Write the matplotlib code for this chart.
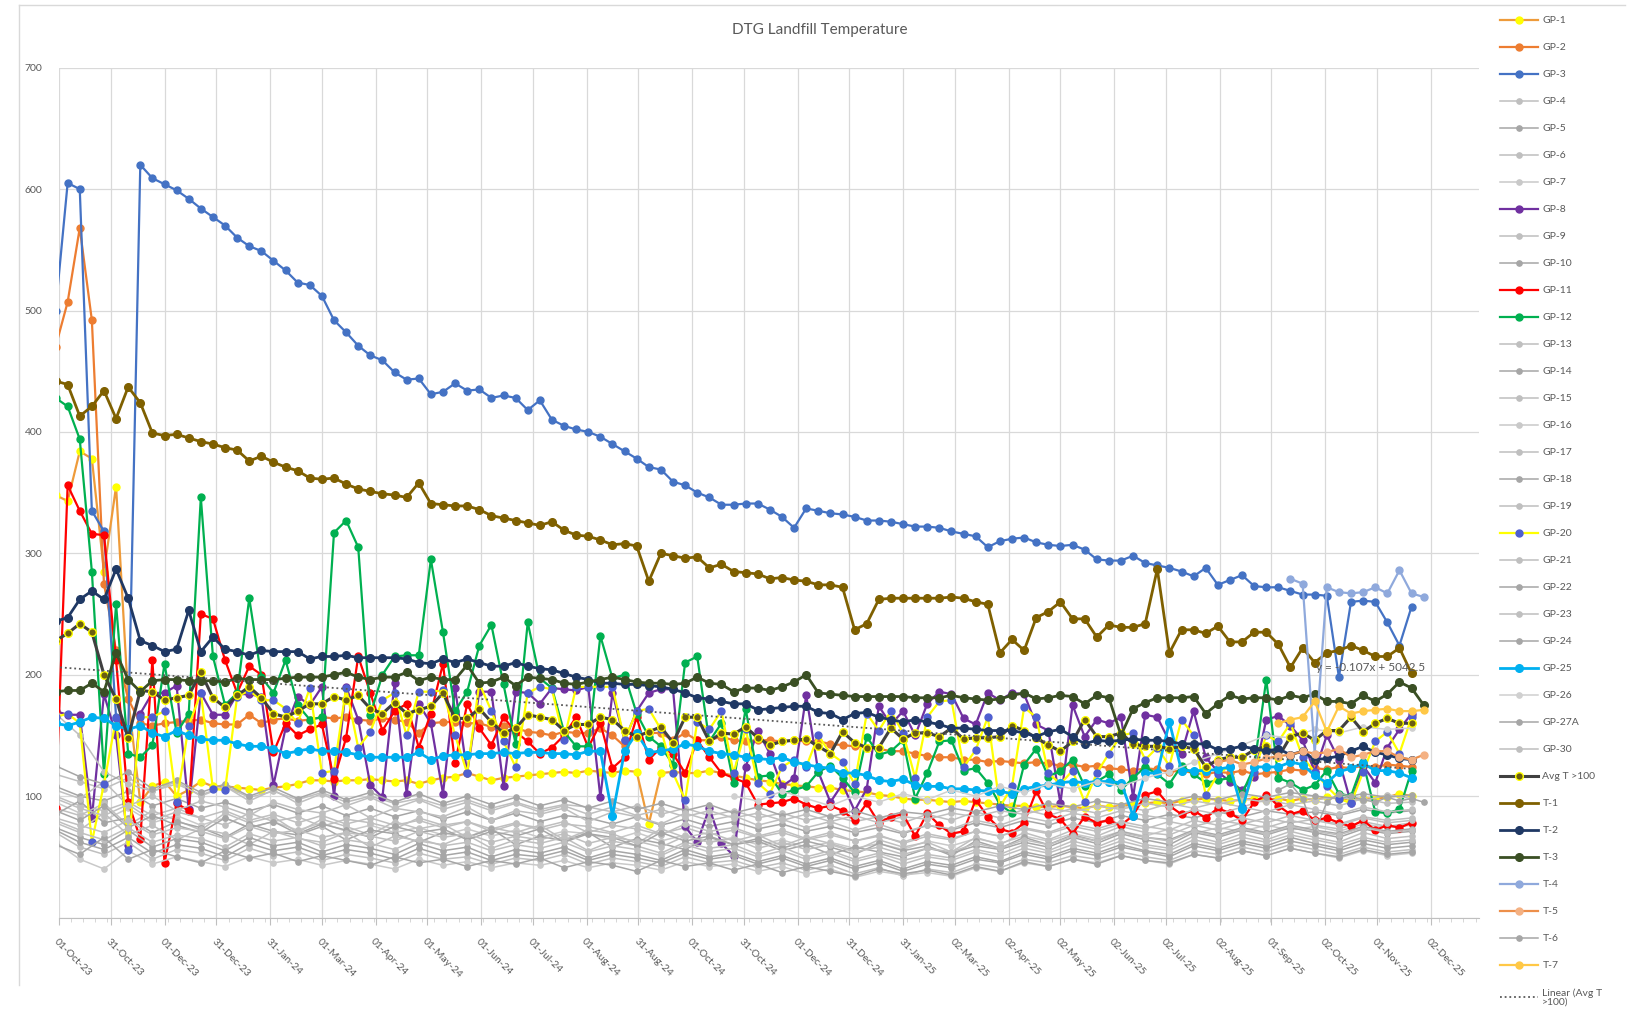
import numpy as np
import pandas as pd
import matplotlib
matplotlib.use("Agg")
import matplotlib.pyplot as plt
from matplotlib.lines import Line2D
from matplotlib.ticker import FixedLocator

plt.rcParams['font.family'] = ['Lato', 'DejaVu Sans']
nan = np.nan

# weekly readings; the first one (29-Sep-23) sits just left of the axis
dates = pd.date_range('2023-09-29', periods=114, freq='7D')
dates_gray = dates[::2]          # grey wells, read every other week

tick_labels = ['01-Oct-23', '31-Oct-23', '01-Dec-23', '31-Dec-23', '31-Jan-24', '01-Mar-24',
               '01-Apr-24', '01-May-24', '01-Jun-24', '01-Jul-24', '01-Aug-24', '31-Aug-24',
               '01-Oct-24', '31-Oct-24', '01-Dec-24', '31-Dec-24', '31-Jan-25', '02-Mar-25',
               '02-Apr-25', '02-May-25', '02-Jun-25', '02-Jul-25', '02-Aug-25', '01-Sep-25',
               '02-Oct-25', '01-Nov-25', '02-Dec-25']

gp1 = [348, 343, 384, 378, 285, 355, 180, 95, 108, 112,
       100, 105, 112, 108, 108, 107, 106, 105, 107, 108,
       110, 113, 113, 112, 113, 113, 114, 113, 112, 113,
       110, 113, 115, 116, 119, 116, 113, 115, 116, 117,
       118, 119, 120, 119, 121, 120, 119, 121, 120, 77,
       119, 120, 119, 119, 121, 119, 117, 115, 113, 112,
       110, 109, 108, 107, 107, 105, 104, 103, 101, 100,
       98, 97, 97, 96, 95, 96, 95, 94, 93, 92,
       92, 91, 91, 92, 91, 90, 92, 91, 92, 93,
       94, 95, 94, 96, 97, 98, 97, 96, 97, 98,
       97, 98, 96, 98, 97, 99, 98, 97, 98, 98,
       99, 102, 100, nan]
gp2 = [470, 507, 568, 492, 275, 220, 180, 160, 158, 160,
       161, 162, 163, 160, 159, 159, 167, 160, 163, 164,
       162, 163, 165, 164, 165, 163, 162, 164, 163, 161,
       152, 160, 161, 161, 160, 160, 157, 158, 156, 153,
       152, 150, 153, 152, 152, 156, 150, 141, 150, 152,
       152, 146, 152, 146, 146, 149, 146, 145, 146, 146,
       145, 146, 145, 145, 143, 142, 141, 140, 139, 137,
       137, 135, 133, 132, 132, 130, 130, 128, 129, 128,
       127, 128, 127, 125, 126, 124, 125, 123, 122, 121,
       123, 122, 120, 121, 119, 118, 120, 119, 121, 118,
       119, 120, 122, 121, 123, 122, 124, 123, 125, 124,
       126, 125, 124, nan]
gp3 = [500, 605, 600, 335, 318, 165, 150, 620, 609, 604,
       599, 592, 584, 577, 570, 560, 553, 549, 541, 533,
       523, 521, 512, 492, 482, 471, 463, 459, 449, 443,
       444, 431, 433, 440, 434, 435, 428, 430, 428, 418,
       426, 410, 405, 402, 400, 396, 390, 384, 378, 371,
       369, 359, 356, 350, 346, 340, 340, 341, 341, 336,
       330, 321, 337, 335, 333, 332, 330, 327, 327, 326,
       324, 322, 322, 321, 318, 316, 314, 305, 310, 312,
       313, 309, 307, 306, 307, 303, 295, 294, 294, 298,
       292, 290, 288, 285, 281, 288, 274, 278, 282, 273,
       272, 272, 269, 266, 266, 265, 198, 260, 261, 260,
       243, 224, 256, nan]
gp8 = [170, 167, 167, 82, 184, 150, 60, 168, 185, 185,
       191, 89, 185, 167, 167, 184, 184, 182, 109, 156,
       182, 175, 190, 100, 190, 163, 109, 99, 193, 102,
       176, 160, 102, 189, 119, 186, 186, 108, 186, 185,
       176, 189, 188, 187, 190, 99, 185, 146, 170, 185,
       188, 188, 75, 62, 90, 61, 51, 124, 154, 135,
       108, 115, 183, 120, 95, 110, 88, 106, 174, 159,
       170, 150, 176, 186, 184, 164, 159, 185, 179, 185,
       184, 159, 154, 94, 175, 149, 163, 160, 165, 99,
       167, 165, 145, 135, 170, 132, 120, 112, 105, 116,
       163, 166, 158, 146, 120, 150, 130, 94, 125, 111,
       140, 155, 168, nan]
gp11 = [90, 356, 335, 316, 315, 212, 95, 65, 212, 45,
        94, 88, 250, 246, 212, 185, 207, 200, 136, 160,
        150, 155, 159, 114, 148, 215, 185, 154, 170, 176,
        140, 168, 209, 127, 176, 156, 142, 165, 153, 145,
        135, 140, 150, 165, 140, 160, 123, 132, 165, 130,
        140, 135, 119, 146, 132, 119, 115, 111, 93, 94,
        95, 98, 93, 90, 92, 88, 80, 94, 78, 83,
        85, 67, 86, 76, 69, 71, 97, 83, 73, 70,
        78, 104, 85, 81, 69, 83, 78, 80, 76, 84,
        101, 104, 92, 85, 88, 82, 90, 86, 80, 95,
        101, 92, 85, 88, 80, 82, 78, 75, 80, 72,
        76, 74, 78, nan]
gp12 = [428, 421, 394, 285, 118, 258, 135, 132, 142, 209,
        152, 168, 346, 215, 175, 185, 263, 198, 185, 212,
        175, 163, 165, 317, 327, 305, 167, 200, 215, 216,
        216, 295, 235, 170, 186, 224, 241, 192, 143, 243,
        197, 189, 153, 141, 141, 232, 197, 200, 168, 149,
        141, 126, 210, 215, 145, 160, 111, 172, 116, 117,
        102, 105, 108, 120, 125, 115, 103, 149, 134, 137,
        146, 98, 119, 145, 146, 121, 123, 111, 93, 86,
        126, 139, 116, 121, 130, 108, 112, 118, 105, 115,
        124, 118, 110, 125, 118, 111, 113, 115, 102, 124,
        196, 115, 111, 105, 109, 121, 102, 100, 128, 87,
        86, 89, 121, nan]
gp20 = [165, 168, 160, 62, 110, 164, 56, 165, 165, 170,
        95, 158, 185, 106, 105, 182, 187, 179, 179, 172,
        160, 189, 119, 121, 189, 140, 153, 179, 185, 150,
        186, 186, 187, 150, 119, 193, 170, 145, 124, 185,
        190, 188, 146, 190, 190, 190, 190, 146, 170, 172,
        155, 119, 97, 161, 155, 170, 119, 155, 111, 102,
        124, 130, 124, 150, 135, 128, 110, 168, 154, 170,
        152, 115, 165, 178, 179, 124, 138, 165, 91, 108,
        173, 165, 119, 110, 121, 95, 119, 135, 150, 152,
        130, 140, 125, 163, 150, 101, 118, 125, 91, 120,
        150, 145, 160, 132, 120, 108, 98, 94, 120, 145,
        153, 135, 165, nan]
gp25 = [160, 158, 161, 165, 164, 158, 155, 158, 152, 149,
        154, 150, 147, 146, 146, 143, 141, 141, 139, 135,
        137, 139, 137, 137, 136, 134, 132, 132, 132, 132,
        136, 130, 133, 134, 134, 135, 135, 136, 135, 136,
        136, 135, 135, 134, 137, 137, 84, 137, 152, 136,
        137, 139, 143, 141, 137, 135, 134, 132, 131, 130,
        132, 128, 126, 124, 123, 119, 119, 117, 113, 112,
        114, 109, 108, 108, 106, 106, 105, 104, 104, 102,
        106, 108, 109, 111, 112, 111, 112, 112, 111, 84,
        119, 119, 161, 121, 121, 121, 122, 124, 89, 124,
        124, 124, 128, 126, 117, 111, 120, 123, 127, 121,
        121, 119, 115, nan]
avg_t100 = [228, 234, 242, 235, 200, 180, 148, 187, 186, 179,
            181, 183, 202, 181, 173, 183, 190, 181, 168, 165,
            170, 176, 176, 182, 179, 183, 172, 168, 177, 168,
            171, 174, 185, 164, 164, 172, 161, 152, 156, 167,
            165, 163, 154, 159, 159, 165, 163, 154, 149, 153,
            157, 144, 165, 165, 145, 152, 151, 157, 148, 142,
            145, 146, 147, 141, 135, 153, 144, 140, 140, 156,
            147, 152, 152, 149, 156, 147, 148, 148, 149, 158,
            154, 148, 142, 137, 145, 163, 149, 149, 152, 143,
            141, 141, 139, 141, 139, 124, 130, 132, 132, 138,
            141, 132, 149, 152, 146, 154, 154, 165, 153, 160,
            164, 160, 160, nan]
t1 = [442, 439, 413, 421, 434, 411, 437, 424, 399, 397,
      398, 395, 392, 390, 387, 385, 376, 380, 375, 371,
      368, 362, 361, 362, 357, 353, 351, 349, 348, 346,
      358, 341, 340, 339, 339, 336, 331, 329, 327, 325,
      323, 326, 319, 315, 314, 311, 307, 308, 306, 277,
      300, 298, 296, 297, 288, 291, 285, 284, 283, 279,
      280, 278, 277, 274, 274, 272, 237, 242, 262, 263,
      263, 263, 263, 263, 264, 263, 260, 258, 218, 229,
      220, 247, 252, 260, 246, 246, 231, 241, 239, 239,
      242, 287, 218, 237, 237, 234, 240, 227, 227, 235,
      235, 225, 206, 222, 210, 218, 220, 224, 220, 215,
      215, 222, 201, nan]
t2 = [244, 247, 262, 269, 262, 287, 263, 228, 224, 219,
      221, 253, 219, 231, 221, 219, 216, 220, 219, 219,
      219, 213, 215, 215, 216, 214, 214, 214, 214, 213,
      210, 209, 213, 210, 213, 210, 207, 207, 210, 207,
      205, 204, 201, 198, 196, 193, 193, 192, 192, 191,
      190, 188, 185, 181, 180, 178, 176, 176, 171, 172,
      173, 174, 174, 169, 168, 163, 168, 169, 165, 163,
      161, 163, 161, 159, 156, 156, 155, 154, 154, 154,
      152, 149, 153, 155, 149, 143, 146, 145, 146, 147,
      146, 146, 145, 143, 143, 143, 138, 139, 141, 139,
      137, 139, 134, 137, 130, 131, 133, 137, 141, 136,
      134, 131, 130, nan]
t3 = [186, 187, 187, 193, 186, 218, 196, 186, 195, 196,
      196, 195, 195, 195, 194, 197, 196, 196, 196, 197,
      198, 198, 198, 200, 202, 198, 196, 198, 198, 202,
      195, 198, 196, 196, 208, 193, 194, 198, 191, 198,
      197, 196, 193, 192, 194, 196, 198, 196, 194, 193,
      193, 192, 193, 198, 193, 192, 186, 189, 189, 187,
      190, 194, 200, 185, 184, 183, 182, 182, 182, 182,
      182, 181, 181, 181, 183, 181, 180, 179, 180, 183,
      185, 180, 181, 183, 182, 176, 183, 181, 150, 172,
      177, 181, 181, 181, 182, 168, 176, 183, 180, 181,
      181, 179, 183, 181, 184, 178, 178, 176, 183, 178,
      184, 194, 189, 175]
t4 = [nan] * 102 + [279, 275, 135, 272, 268, 267, 268, 272, 267, 286, 267, 264]
t5 = [nan] * 96 + [128, 130, 126, 128, 131, 133, 134, 137, 135, 136, 139, 132,
                   134, 137, 137, 132, 130, 134]
t6 = [nan] * 101 + [105, 110, 98, 70, 95, 102, 100, 97, 95, 99, 96, 98, 95]
t7 = [nan] * 101 + [160, 163, 165, 178, 153, 174, 168, 170, 171, 172, 170, 170, 171]

# grey wells (every other week)
gp4 = [118, 112, 106, 115, 104, 110, 101, 108, 99, 104, 97, 103, 95, 100, 94, 98, 92, 97, 90, 95,
       89, 93, 91, 87, 92, 85, 90, 84, 88, 82, 86, 80, 84, 79, 83, 78, 85, 80, 87, 82,
       89, 84, 90, 86, 92, 88, 94, 90, 95, 91, 97, 93, 96, 92, 98, 94, 95]
gp5 = [108, 100, 96, 104, 92, 98, 90, 95, 88, 93, 86, 92, 84, 90, 83, 88, 81, 87, 80, 86,
       79, 84, 82, 77, 83, 76, 81, 75, 79, 73, 77, 71, 75, 70, 74, 69, 76, 72, 78, 74,
       80, 76, 82, 78, 84, 80, 85, 82, 87, 83, 88, 85, 87, 84, 89, 86, 88]
gp6 = [100, 92, 88, 95, 84, 90, 82, 88, 80, 85, 78, 84, 77, 82, 76, 80, 74, 79, 73, 78,
       72, 77, 75, 70, 76, 69, 74, 68, 72, 66, 70, 64, 68, 63, 67, 62, 69, 65, 71, 67,
       73, 69, 75, 71, 77, 73, 79, 75, 80, 77, 82, 78, 81, 77, 83, 80, 82]
gp7 = [95, 86, 80, 90, 78, 84, 76, 82, 74, 79, 72, 78, 71, 76, 70, 74, 68, 73, 67, 72,
       66, 71, 69, 64, 70, 63, 68, 62, 66, 60, 64, 58, 62, 57, 61, 56, 63, 59, 65, 61,
       67, 63, 69, 65, 71, 67, 73, 69, 74, 71, 76, 72, 75, 71, 77, 74, 76]
gp9 = [90, 84, 94, 76, 88, 80, 72, 86, 78, 83, 70, 81, 75, 68, 79, 73, 77, 66, 74, 70,
       76, 64, 72, 69, 61, 73, 66, 70, 63, 68, 59, 66, 61, 55, 64, 58, 62, 54, 66, 60,
       70, 64, 72, 67, 75, 70, 68, 76, 72, 78, 74, 80, 76, 73, 79, 75, 78]
gp10 = [85, 96, 78, 82, 70, 79, 74, 66, 77, 71, 68, 75, 64, 72, 69, 62, 70, 66, 73, 60,
        67, 63, 70, 58, 65, 61, 56, 66, 60, 63, 55, 60, 52, 58, 54, 50, 57, 53, 59, 56,
        62, 58, 66, 61, 69, 64, 60, 70, 66, 72, 68, 74, 70, 66, 73, 69, 71]
gp13 = [80, 72, 86, 68, 76, 64, 73, 69, 60, 71, 65, 62, 70, 58, 67, 63, 60, 68, 57, 64,
        61, 66, 55, 63, 59, 53, 62, 57, 60, 52, 58, 50, 55, 48, 53, 47, 52, 49, 56, 52,
        60, 55, 63, 58, 66, 60, 57, 67, 62, 69, 64, 71, 66, 62, 70, 65, 67]
gp14 = [74, 66, 60, 72, 58, 65, 62, 55, 66, 59, 62, 54, 60, 57, 52, 61, 55, 58, 50, 56,
        53, 58, 49, 55, 52, 47, 56, 50, 53, 46, 51, 44, 49, 42, 47, 40, 46, 43, 50, 46,
        54, 50, 57, 53, 60, 55, 52, 61, 57, 63, 59, 66, 61, 57, 64, 60, 62]
gp15 = [70, 58, 52, 62, 48, 56, 53, 47, 57, 51, 54, 47, 52, 49, 45, 53, 48, 50, 44, 49,
        47, 52, 44, 49, 46, 42, 50, 45, 47, 41, 45, 39, 43, 36, 41, 34, 40, 37, 44, 41,
        48, 45, 51, 48, 54, 50, 47, 55, 52, 58, 54, 60, 56, 52, 58, 54, 56]
gp16 = [62, 48, 40, 55, 44, 50, 46, 42, 50, 45, 48, 43, 47, 44, 40, 48, 43, 46, 41, 45,
        43, 47, 41, 45, 43, 39, 46, 42, 44, 38, 42, 36, 40, 33, 38, 35, 37, 34, 41, 38,
        45, 42, 48, 45, 51, 47, 44, 52, 49, 55, 51, 57, 53, 49, 55, 51, 53]
gp17 = [168, 150, 120, 110, 104, 112, 100, 108, 96, 105, 94, 102, 92, 99, 90, 97, 89, 95, 88, 94,
        87, 92, 85, 91, 84, 89, 83, 88, 82, 86, 80, 85, 79, 84, 78, 83, 81, 86, 83, 88,
        85, 90, 87, 92, 89, 94, 91, 96, 93, 98, 95, 100, 97, 99, 96, 101, 98]
gp18 = [125, 116, 110, 120, 106, 113, 103, 110, 100, 107, 98, 105, 97, 103, 95, 102, 94, 100, 93, 99,
        92, 97, 90, 96, 89, 94, 88, 93, 86, 91, 84, 89, 83, 88, 82, 87, 85, 90, 87, 92,
        89, 94, 91, 96, 93, 98, 95, 100, 97, 102, 99, 103, 100, 98, 102, 99, 101]
gp19 = [105, 98, 112, 92, 100, 88, 96, 91, 84, 95, 89, 86, 93, 82, 90, 87, 83, 91, 80, 88,
        85, 90, 79, 87, 83, 77, 86, 80, 84, 76, 81, 74, 79, 72, 77, 70, 76, 73, 80, 76,
        83, 79, 86, 82, 88, 84, 81, 89, 85, 91, 87, 93, 89, 85, 91, 87, 89]
gp21 = [98, 90, 84, 93, 80, 87, 82, 76, 86, 79, 83, 75, 81, 78, 73, 82, 76, 79, 71, 77,
        74, 79, 70, 76, 73, 68, 77, 71, 74, 67, 72, 65, 70, 63, 68, 61, 67, 64, 71, 67,
        74, 70, 77, 73, 79, 75, 72, 80, 76, 82, 78, 84, 80, 76, 82, 78, 80]
gp22 = [88, 80, 92, 74, 84, 76, 70, 82, 74, 79, 69, 77, 72, 66, 75, 70, 73, 64, 71, 67,
        73, 62, 69, 66, 59, 70, 63, 67, 60, 65, 57, 63, 58, 52, 61, 55, 59, 51, 63, 57,
        66, 60, 68, 63, 71, 66, 64, 72, 68, 74, 70, 76, 72, 69, 75, 71, 73]
gp23 = [78, 70, 64, 74, 62, 68, 65, 58, 69, 63, 66, 59, 64, 61, 56, 65, 59, 62, 55, 60,
        57, 62, 54, 59, 56, 51, 60, 54, 57, 50, 55, 48, 53, 46, 51, 44, 50, 47, 54, 50,
        57, 53, 60, 56, 63, 58, 55, 64, 60, 66, 62, 68, 64, 60, 66, 62, 64]
gp24 = [72, 62, 56, 66, 53, 60, 57, 50, 61, 55, 58, 51, 56, 53, 48, 57, 51, 54, 47, 52,
        50, 55, 47, 52, 49, 45, 53, 48, 51, 44, 49, 42, 47, 40, 45, 38, 44, 41, 48, 45,
        52, 48, 55, 51, 58, 54, 50, 59, 55, 61, 57, 63, 59, 55, 61, 57, 59]
gp26 = [nan] * 28 + [100, 96, 104, 98, 92, 100, 95, 102, 97, 105, 100, 108, 103, 110, 106,
                     112, 108, 115, 120, 128, 135, 142, 150, 148, 155, 152, 157, 155, 156]
gp27a = [60, 52, 66, 48, 56, 50, 45, 55, 49, 53, 46, 51, 47, 43, 50, 45, 48, 42, 47, 44,
         49, 41, 46, 43, 38, 47, 42, 45, 39, 44, 37, 42, 38, 34, 40, 36, 39, 35, 42, 38,
         46, 42, 48, 44, 51, 47, 45, 52, 49, 55, 51, 57, 53, 50, 56, 52, 54]
gp30 = [82, 76, 70, 80, 68, 74, 71, 65, 75, 69, 72, 66, 70, 67, 63, 71, 66, 69, 62, 67,
        64, 69, 61, 66, 63, 58, 67, 62, 65, 57, 62, 56, 60, 54, 58, 52, 57, 54, 61, 57,
        64, 60, 67, 63, 70, 66, 63, 71, 67, 73, 69, 75, 71, 68, 74, 70, 72]

# Excel linear trendline on Avg T >100 (x = Excel date serial)
trend_slope = -0.107
trend_intercept = 5042.5

G1, G2 = '#BFBFBF', '#A6A6A6'


def col(c, mfc=None, lw=1.6, ms=5):
    return dict(color=c, mfc=mfc or c, mec=mfc or c, lw=lw, ms=ms)


def grey(c):
    return dict(color=c, mfc=c, mec=c, lw=1.1, ms=3.8)


series = [
    ('GP-1', gp1, dates, col('#EE9B3A', '#FFFF00')),
    ('GP-2', gp2, dates, col('#ED7D31')),
    ('GP-3', gp3, dates, col('#4472C4')),
    ('GP-4', gp4, dates_gray, grey(G1)),
    ('GP-5', gp5, dates_gray, grey(G2)),
    ('GP-6', gp6, dates_gray, grey(G1)),
    ('GP-7', gp7, dates_gray, grey('#C9C9C9')),
    ('GP-8', gp8, dates, col('#7030A0')),
    ('GP-9', gp9, dates_gray, grey(G1)),
    ('GP-10', gp10, dates_gray, grey(G2)),
    ('GP-11', gp11, dates, col('#FF0000')),
    ('GP-12', gp12, dates, col('#00B050')),
    ('GP-13', gp13, dates_gray, grey(G1)),
    ('GP-14', gp14, dates_gray, grey(G2)),
    ('GP-15', gp15, dates_gray, grey(G1)),
    ('GP-16', gp16, dates_gray, grey('#C9C9C9')),
    ('GP-17', gp17, dates_gray, grey(G1)),
    ('GP-18', gp18, dates_gray, grey(G2)),
    ('GP-19', gp19, dates_gray, grey(G1)),
    ('GP-20', gp20, dates, col('#FFFF00', '#4F5FD0')),
    ('GP-21', gp21, dates_gray, grey(G1)),
    ('GP-22', gp22, dates_gray, grey(G2)),
    ('GP-23', gp23, dates_gray, grey(G1)),
    ('GP-24', gp24, dates_gray, grey(G2)),
    ('GP-25', gp25, dates, col('#00B0F0', lw=2.0, ms=5.5)),
    ('GP-26', gp26, dates_gray, grey('#D0D0D0')),
    ('GP-27A', gp27a, dates_gray, grey(G2)),
    ('GP-30', gp30, dates_gray, grey(G1)),
    ('Avg T >100', avg_t100, dates, dict(color='#404040', mfc='#6B5E12', mec='#FFFF00', lw=2.2, ms=5.5)),
    ('T-1', t1, dates, col('#7F6000', lw=2.0, ms=5.5)),
    ('T-2', t2, dates, col('#1F3864', lw=2.0, ms=5.5)),
    ('T-3', t3, dates, col('#3A4F24', lw=2.0, ms=5.5)),
    ('T-4', t4, dates, col('#8FA9DC')),
    ('T-5', t5, dates, col('#ED8F4A', '#F4B183')),
    ('T-6', t6, dates, grey(G2)),
    ('T-7', t7, dates, col('#FFC846')),
]

fig = plt.figure(figsize=(16.32, 10.10), dpi=100)
ax = fig.add_axes([59 / 1632, 92.5 / 1010, 1420 / 1632, 849.8 / 1010])

handles = []
for name, vals, d, st in series:
    n = min(len(vals), len(d))
    ln, = ax.plot(d[:n], np.array(vals[:n], dtype=float), marker='o', label=name,
                  color=st['color'], lw=st['lw'], ms=st['ms'],
                  markerfacecolor=st['mfc'], markeredgecolor=st['mec'],
                  markeredgewidth=1.0)
    handles.append(ln)

# linear trend of Avg T >100
avg_arr = np.array(avg_t100, dtype=float)
valid = dates[:len(avg_arr)][~np.isnan(avg_arr)]
tx = valid[[0, -1]]
serial = (tx - pd.Timestamp('1899-12-30')).days.values
ty = trend_slope * serial + trend_intercept
tl, = ax.plot(tx, ty, color='#595959', lw=1.3, ls=(0, (1, 1.6)), label='Linear (Avg T\n>100)', zorder=5)
handles.append(tl)
ax.text(pd.Timestamp('2025-09-27'), 206, 'y = -0.107x + 5042.5', fontsize=8.5,
        color='#595959', ha='left', va='center', zorder=6)

# axes
tick_dates = pd.to_datetime(tick_labels, format='%d-%b-%y')
ax.set_xlim(pd.Timestamp('2023-10-01'), pd.Timestamp('2025-12-30'))
ax.set_ylim(0, 700)
ax.set_xticks(tick_dates)
ax.set_xticklabels(tick_labels, rotation=-45, ha='left', va='top', rotation_mode='anchor')
minor = pd.date_range('2023-10-01', '2025-12-30', freq='7D')
ax.xaxis.set_minor_locator(FixedLocator(matplotlib.dates.date2num(minor)))
ax.set_yticks(range(0, 701, 100))
ax.set_yticklabels([''] + [str(v) for v in range(100, 701, 100)])

ax.grid(True, which='major', color='#D9D9D9', lw=0.9)
ax.set_axisbelow(True)
for s in ('top', 'right', 'left'):
    ax.spines[s].set_visible(False)
ax.spines['bottom'].set_color('#BFBFBF')
ax.tick_params(axis='y', length=0, pad=12, labelsize=7.5, labelcolor='#595959')
ax.tick_params(axis='x', which='major', length=5, color='#BFBFBF', labelsize=7.5,
               labelcolor='#595959', pad=9)
ax.tick_params(axis='x', which='minor', length=3, color='#D0D0D0')

fig.text(820 / 1632, 1 - 30 / 1010, 'DTG Landfill Temperature', ha='center', va='center',
         fontsize=11, color='#595959')

leg = fig.legend(handles=handles, loc='upper left', bbox_to_anchor=(1496 / 1632, 1 - 12 / 1010),
                 frameon=False, fontsize=7.5, labelspacing=1.70, handlelength=3.6,
                 handletextpad=0.45, labelcolor='#595959', borderaxespad=0)
for t in leg.get_texts():
    t.set_linespacing(1.0)

# chart-area border (left and top edges visible in the screenshot)
fig.add_artist(Line2D([19 / 1632, 19 / 1632], [1 - 5 / 1010, 1 - 985 / 1010], color='#D9D9D9', lw=1))
fig.add_artist(Line2D([19 / 1632, 1625 / 1632], [1 - 5 / 1010, 1 - 5 / 1010], color='#D9D9D9', lw=1))

fig.savefig('out.png', dpi=100)
